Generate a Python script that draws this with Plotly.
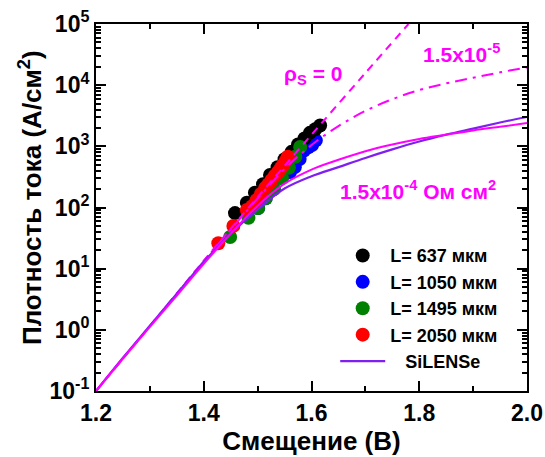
import plotly.graph_objects as go

# ---- data ----
# measured points: bias (V), current density (A/cm^2)
v637 = [1.458, 1.480, 1.495, 1.510, 1.523, 1.537, 1.550, 1.563, 1.575, 1.587, 1.597, 1.607, 1.616]
j637 = [81, 120, 174, 240, 339, 457, 617, 813, 1072, 1349, 1660, 1905, 2188]

v1050 = [1.501, 1.515, 1.530, 1.545, 1.560, 1.569, 1.578, 1.586, 1.594, 1.601, 1.608]
j1050 = [98, 141, 200, 302, 380, 457, 620, 850, 960, 1050, 1250]

v1495 = [1.449, 1.483, 1.501, 1.515, 1.530, 1.545, 1.558, 1.570, 1.579]
j1495 = [33, 68, 98, 141, 200, 302, 447, 676, 977]

v2050 = [1.427, 1.455, 1.480, 1.490, 1.498, 1.506, 1.514, 1.520, 1.526, 1.532, 1.538, 1.543, 1.547, 1.552, 1.556]
j2050 = [26, 50, 91, 105, 132, 166, 209, 240, 282, 331, 380, 437, 490, 575, 676]

# simulated curves
v_curve = [1.20, 1.25, 1.30, 1.35, 1.40, 1.45, 1.50, 1.55, 1.60, 1.65, 1.70, 1.75, 1.80, 1.85, 1.90, 1.95, 2.00]
v_rho0 = [1.20, 1.30, 1.40, 1.50, 1.60, 1.70, 1.78]
j_rho0 = [0.1, 1.15, 13.5, 148, 1550, 15800, 100000]
j_rho15e5 = [0.1, 0.34, 1.15, 3.9, 13.2, 43.6, 141, 427, 1050, 2140, 3800, 5890, 8320, 10700, 13200, 16200, 19500]
j_rho15e4 = [0.1, 0.34, 1.12, 3.63, 12.0, 37.2, 107, 245, 417, 603, 832, 1070, 1320, 1550, 1820, 2090, 2400]
j_silense = [0.1, 0.35, 1.17, 3.89, 12.9, 37.2, 93, 204, 324, 457, 646, 891, 1200, 1550, 1950, 2450, 3020]

ytick_vals = [0.1, 1, 10, 100, 1000, 10000, 100000]
ytick_text = ["10<sup>-1</sup>", "10<sup>0</sup>", "10<sup>1</sup>", "10<sup>2</sup>",
              "10<sup>3</sup>", "10<sup>4</sup>", "10<sup>5</sup>"]
xtick_vals = [1.2, 1.4, 1.6, 1.8, 2.0]
xtick_text = ["1.2", "1.4", "1.6", "1.8", "2.0"]

FONT = "Liberation Sans, Arial, sans-serif"
MAG = "#ff00ff"
PURP = "#8020f0"
MS = 14

fig = go.Figure()

def pts(x, y, color, name, rank):
    fig.add_trace(go.Scatter(x=x, y=y, mode="markers", name=name, legendrank=rank,
                             marker=dict(color=color, size=MS, line=dict(width=0))))

pts(v1050, j1050, "#0000ff", "L= 1050 мкм", 2)
pts(v637, j637, "#000000", "L= 637 мкм", 1)
pts(v1495, j1495, "#008000", "L= 1495 мкм", 3)
pts(v2050, j2050, "#ff0000", "L= 2050 мкм", 4)

fig.add_trace(go.Scatter(x=v_rho0, y=j_rho0, mode="lines", showlegend=False,
                         line=dict(color=MAG, width=2, dash="8px,6px", shape="spline")))
fig.add_trace(go.Scatter(x=v_curve, y=j_rho15e5, mode="lines", showlegend=False,
                         line=dict(color=MAG, width=2, dash="12px,6px,3px,6px", shape="spline")))
fig.add_trace(go.Scatter(x=v_curve, y=j_silense, mode="lines", name="\u00a0\u00a0\u00a0SiLENSe", legendrank=5,
                         line=dict(color=PURP, width=2.2, shape="spline")))
fig.add_trace(go.Scatter(x=v_curve, y=j_rho15e4, mode="lines", showlegend=False,
                         line=dict(color=MAG, width=2, shape="spline")))

W, H = 545, 457
L, R, T, B = 96, 18, 24, 66

def px_ann(text, px, py, color=MAG, size=21, angle=0):
    fig.add_annotation(text=text, xref="paper", yref="paper",
                       x=(px - L) / (W - L - R), y=1 - (py - T) / (H - T - B),
                       xanchor="center", yanchor="middle", showarrow=False, textangle=angle,
                       font=dict(family=FONT, size=size, color=color, weight="bold"))

px_ann("ρ<sub>S</sub> = 0", 313, 75)
px_ann("1.5x10<sup>-5</sup>", 461, 53)
px_ann("1.5x10<sup>-4</sup> Ом см<sup>2</sup>", 418, 190)
# y-axis title
px_ann("Плотность тока (A/см<sup>2</sup>)", 30, 198, color="black", size=26, angle=-90)

axis_common = dict(showline=True, linecolor="black", linewidth=2, mirror="ticks",
                   ticks="inside", tickwidth=2, ticklen=10, tickcolor="black",
                   showgrid=False, zeroline=False, automargin=False,
                   tickfont=dict(family=FONT, size=23, color="black", weight="bold"))

fig.update_xaxes(range=[1.2, 2.0], tickvals=xtick_vals, ticktext=xtick_text,
                 minor=dict(dtick=0.1, ticks="inside", ticklen=5, tickwidth=2, tickcolor="black"),
                 title=dict(text="Смещение (B)", font=dict(family=FONT, size=26, color="black", weight="bold"),
                            standoff=1),
                 **axis_common)
fig.update_yaxes(type="log", range=[-1, 5], tickvals=ytick_vals, ticktext=ytick_text,
                 minor=dict(dtick="D1", ticks="inside", ticklen=5, tickwidth=1.5, tickcolor="black"),
                 **axis_common)

fig.update_layout(width=W, height=H, margin=dict(l=L, r=R, t=T, b=B),
                  plot_bgcolor="white", paper_bgcolor="white",
                  legend=dict(x=0.555, y=0.419, xanchor="left", yanchor="top",
                              bgcolor="rgba(0,0,0,0)", itemwidth=45, tracegroupgap=0,
                              font=dict(family=FONT, size=18, color="black", weight="bold")))

fig.write_html("out.html")
